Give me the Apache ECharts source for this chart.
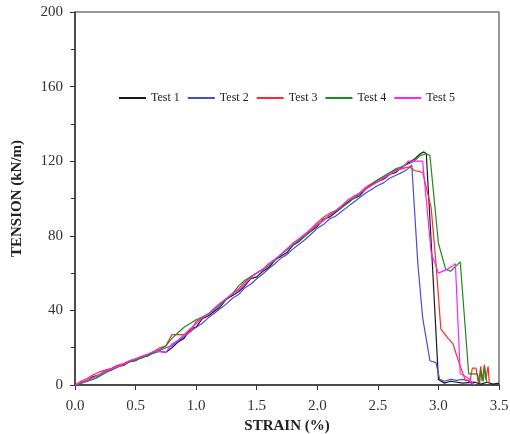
<!DOCTYPE html>
<html>
<head>
<meta charset="utf-8">
<script src="https://cdn.jsdelivr.net/npm/echarts@6/dist/echarts.min.js"></script>
<style>html,body{margin:0;padding:0;background:#fff}#c{width:510px;height:434px}</style>
</head>
<body>
<div id="c"></div>
<script>
// Rising part shares a strain grid (0.00 .. 2.70 step 0.05)
const riseStrain = [0,0.05,0.1,0.15,0.2,0.25,0.3,0.35,0.4,0.45,0.5,0.55,0.6,0.65,0.7,0.75,0.8,0.85,0.9,0.95,1.0,1.05,1.1,1.15,1.2,1.25,1.3,1.35,1.4,1.45,1.5,1.55,1.6,1.65,1.7,1.75,1.8,1.85,1.9,1.95,2.0,2.05,2.1,2.15,2.2,2.25,2.3,2.35,2.4,2.45,2.5,2.55,2.6,2.65,2.7];

const test1Rise = [0,1.2,2.5,4.5,5.5,7.5,8,10,10.5,12.5,13,15,15.5,17.5,18,17.5,20,23,25,30,31,35.5,37,39.5,42,46,48,50,53,57,58,61,63,67,69,71,75,77,80,82.5,85,89,90,92.5,95,98,100,101.5,105,107.5,109,110.5,113,114,117];
const test2Rise = [0,1,2,4,5,7.5,8,9.5,11,12.5,13.5,14.5,16,17,18.5,20,21,23.5,26,28.5,31,33,36,38.5,41,43.5,46.5,48.5,52,54,57,59.5,62.5,65,68,70,73,75.5,78,81,84,86,89,90.5,93,95.5,98,100.5,103,105,107,108.5,111,112.5,114];
const test3Rise = [0,2,3.5,5.5,7,8,9,10.5,11.5,13,14,15,16.5,18,20,21,27,27,27,28.5,34,36,38,41,44,46,49,51.5,55,58,60,62,65,67,70,73,76,78,81,84,87,90,92,93.5,96,99,101,103,106,108,110,111.5,114,115.5,116];
const test4Rise = [0,1,2,3,4.5,6.5,8,9.5,11,12.5,13.5,14.5,16,17.5,19,21,25,28,31,33,35,36.5,38,40.5,43,46,49,53,56,58,60,62,64,67,70,72.5,75,77.5,80,83,86,88.5,91,93,95,97.5,100,102.5,105,107.5,110,112,114,116,117];
const test5Rise = [0,1.5,2.5,4,5.5,7.5,8.5,10,11,13,14,15.5,16.5,18,18,17.5,22,24,27,30,33,36,38,41,44,46.5,49,51,54,57.5,60,62,65,67.5,70,73,76,78.5,81,83.5,86,88,91,93.5,96,99,101,103,105,107,109,111,113,115,116];

// Peak and failure parts
const test1TailStrain = [2.8,2.85,2.88,2.9,2.95,3.0,3.05,3.1,3.2,3.3,3.35,3.4,3.45,3.5];
const test1TailTension = [121,124,125,124,65,3,1,2,1,1.5,0.5,1.5,0.5,1];
const test2TailStrain = [2.75,2.78,2.83,2.87,2.93,2.98,3.01,3.05,3.1,3.15,3.2,3.25,3.28,3.3];
const test2TailTension = [116,118,65,36,13,12,3,2,3,2.5,3,2,0.5,0];
const test3TailStrain = [2.76,2.8,2.87,2.94,2.98,3.02,3.08,3.12,3.17,3.22,3.26,3.28,3.31,3.33,3.35,3.36,3.38,3.39,3.41,3.42];
const test3TailTension = [117,115,114,95,65,30,25,22,12,3,2,9,9,1,10,2,11,3,10,1];
const test4TailStrain = [2.8,2.85,2.9,2.93,3.0,3.06,3.1,3.18,3.25,3.32,3.34,3.35,3.37,3.38,3.4];
const test4TailTension = [120,123,124,123,76,62,61,66,6,6,1,8,2,10,1];
const test5TailStrain = [2.75,2.87,2.94,3.0,3.07,3.12,3.14,3.18,3.24,3.3];
const test5TailTension = [120,120,71,60,62,64,65,6,4,0];

const seriesNames = ['Test 1','Test 2','Test 3','Test 4','Test 5'];
const seriesColors = ['#1a1a1a','#4a4ad8','#ff2a2a','#1f8a1f','#ff22ff'];
const xTicks = [0,0.5,1.0,1.5,2.0,2.5,3.0,3.5];
const yTicks = [0,40,80,120,160,200];

function build(rise, tailX, tailY) {
  const pts = riseStrain.map((x, i) => [x, rise[i]]);
  tailX.forEach((x, i) => pts.push([x, tailY[i]]));
  return pts;
}
const allData = [
  build(test1Rise, test1TailStrain, test1TailTension),
  build(test2Rise, test2TailStrain, test2TailTension),
  build(test3Rise, test3TailStrain, test3TailTension),
  build(test4Rise, test4TailStrain, test4TailTension),
  build(test5Rise, test5TailStrain, test5TailTension)
];

const font = '"Liberation Serif", "Times New Roman", serif';
const chart = echarts.init(document.getElementById('c'), null, {renderer: 'canvas'});
chart.setOption({
  animation: false,
  backgroundColor: '#fff',
  grid: {left: 75, right: 11, top: 12, bottom: 49, show: true, borderColor: '#333', borderWidth: 1, containLabel: false, outerBoundsMode: 'none'},
  legend: {
    data: seriesNames.map(n => ({name: n, icon: 'rect'})),
    left: 114, top: 87,
    itemWidth: 27, itemHeight: 2, itemGap: 8,
    textStyle: {fontFamily: font, fontSize: 12, color: '#222'}
  },
  xAxis: {
    type: 'value', min: xTicks[0], max: xTicks[xTicks.length-1], interval: 0.5,
    name: 'STRAIN (%)', nameLocation: 'middle', nameGap: 27,
    nameTextStyle: {fontFamily: font, fontSize: 15, fontWeight: 'bold', color: '#222'},
    axisLine: {lineStyle: {color: '#333', width: 1.5}},
    axisTick: {show: true, length: 5, lineStyle: {color: '#333'}},
    splitLine: {show: false},
    axisLabel: {fontFamily: font, fontSize: 15, color: '#333', margin: 14, formatter: v => v.toFixed(1)}
  },
  yAxis: {
    type: 'value', min: yTicks[0], max: yTicks[yTicks.length-1], interval: 40,
    name: 'TENSION (kN/m)', nameLocation: 'middle', nameGap: 50,
    nameTextStyle: {fontFamily: font, fontSize: 15, fontWeight: 'bold', color: '#222'},
    axisLine: {lineStyle: {color: '#333', width: 1.5}},
    axisTick: {show: true, length: 5, lineStyle: {color: '#333'}},
    minorTick: {show: true, splitNumber: 2, length: 4, lineStyle: {color: '#333'}},
    splitLine: {show: false},
    axisLabel: {fontFamily: font, fontSize: 15, color: '#333', margin: 12}
  },
  series: allData.map((d, i) => ({
    name: seriesNames[i], type: 'line', data: d, symbol: 'none', showSymbol: false,
    lineStyle: {width: 1.2, color: seriesColors[i]}, itemStyle: {color: seriesColors[i]}
  }))
});
</script>
</body>
</html>
